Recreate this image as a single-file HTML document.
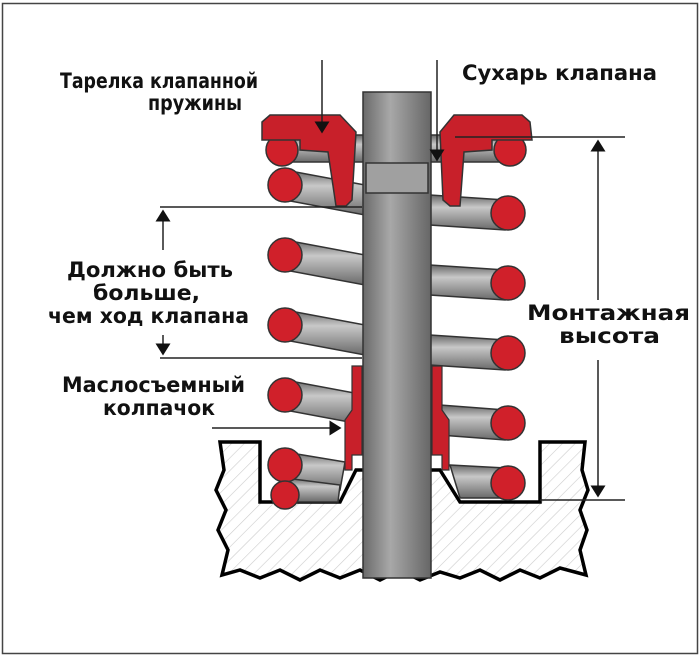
<!DOCTYPE html>
<html><head><meta charset="utf-8"><style>
html,body{margin:0;padding:0;background:#fff}
svg{display:block}
text{font-family:"DejaVu Sans","Liberation Sans",sans-serif;font-weight:bold;font-size:21px;fill:#111}
</style></head><body>
<svg width="700" height="656" viewBox="0 0 700 656" xmlns="http://www.w3.org/2000/svg">
<defs>
<pattern id="h" width="9" height="9" patternUnits="userSpaceOnUse" patternTransform="rotate(45)">
<line x1="0" y1="0" x2="0" y2="9" stroke="#ccc" stroke-width="1.2"/></pattern>
<linearGradient id="rod" x1="0" y1="0" x2="0" y2="1">
<stop offset="0" stop-color="#666"/><stop offset="0.35" stop-color="#c8c8c8"/><stop offset="1" stop-color="#6a6a6a"/></linearGradient>
<linearGradient id="stem" x1="0" y1="0" x2="1" y2="0">
<stop offset="0" stop-color="#6a6a6a"/><stop offset="0.4" stop-color="#a8a8a8"/><stop offset="1" stop-color="#666"/></linearGradient>
<marker id="a" markerWidth="8" markerHeight="10" refX="7" refY="5" orient="auto"><path d="M0,0 L8,5 L0,10 z" fill="#111"/></marker>
</defs>
<rect x="2.5" y="3.5" width="695" height="650" fill="#fff" stroke="#444" stroke-width="1.5"/>
<path d="M220,442 L260,442 L260,502 L340,502 L356,470 L440,470 L460,502 L540,502 L540,442 L585,442 L582,470 L588,490 L580,510 L587,530 L580,550 L586,575 L560,568 L540,578 L520,570 L500,580 L480,570 L460,578 L440,572 L420,580 L400,570 L380,580 L360,570 L340,578 L320,570 L300,580 L280,570 L260,578 L240,570 L222,575 L228,550 L218,530 L226,510 L216,490 L224,470 Z" fill="url(#h)" stroke="#000" stroke-width="3.5"/>
<g stroke="#333" stroke-width="1.5" fill="url(#rod)">
<path d="M285,170 L365,185 L365,215 L285,200 Z"/>
<path d="M285,240 L365,255 L365,285 L285,270 Z"/>
<path d="M285,310 L365,325 L365,355 L285,340 Z"/>
<path d="M285,380 L365,395 L365,425 L285,410 Z"/>
<path d="M285,452 L345,462 L340,490 L285,480 Z"/>
<path d="M285,478 L340,485 L338,502 L285,502 Z"/>
<path d="M430,195 L505,200 L505,230 L430,225 Z"/>
<path d="M430,265 L505,270 L505,300 L430,295 Z"/>
<path d="M430,335 L505,340 L505,370 L430,365 Z"/>
<path d="M440,405 L505,410 L505,440 L440,435 Z"/>
<path d="M450,465 L505,468 L505,498 L460,498 Z"/>
<path d="M285,135 L505,135 L505,162 L285,162 Z" />
</g>
<rect x="363" y="92" width="68" height="486" fill="url(#stem)" stroke="#333" stroke-width="1.5"/>
<rect x="366" y="163" width="62" height="30" fill="#a0a0a0" stroke="#333" stroke-width="1.5"/>
<g fill="#d0202a" stroke="#333" stroke-width="1.5">
<circle cx="282" cy="150" r="16"/><circle cx="510" cy="150" r="16"/>
</g>
<path d="M262,122 L270,115 L340,115 L356,132 L352,200 L346,206 L336,206 L328,152 L300,150 L300,140 L262,140 Z" fill="#c8202a" stroke="#333" stroke-width="1.5"/>
<path d="M530,122 L522,115 L454,115 L440,132 L443,200 L450,206 L460,206 L464,152 L492,150 L492,140 L532,140 Z" fill="#c8202a" stroke="#333" stroke-width="1.5"/>
<path d="M352,366 L362,366 L362,455 L352,455 L352,470 L345,470 L345,420 L352,410 Z" fill="#c8202a" stroke="#333" stroke-width="1.2"/>
<path d="M432,366 L442,366 L442,410 L449,420 L449,470 L442,470 L442,455 L432,455 Z" fill="#c8202a" stroke="#333" stroke-width="1.2"/>
<g fill="#d0202a" stroke="#333" stroke-width="1.5">
<circle cx="285" cy="185" r="17"/>
<circle cx="285" cy="255" r="17"/>
<circle cx="285" cy="325" r="17"/>
<circle cx="285" cy="395" r="17"/>
<circle cx="285" cy="465" r="17"/>
<circle cx="285" cy="495" r="14"/>
<circle cx="508" cy="213" r="17"/>
<circle cx="508" cy="283" r="17"/>
<circle cx="508" cy="353" r="17"/>
<circle cx="508" cy="423" r="17"/>
<circle cx="508" cy="483" r="17"/>
</g>
<g stroke="#222" stroke-width="1.5" fill="none">
<line x1="160" y1="207" x2="362" y2="207"/>
<line x1="160" y1="358" x2="362" y2="358"/>
<line x1="163" y1="250" x2="163" y2="211" marker-end="url(#a)"/>
<line x1="163" y1="335" x2="163" y2="354" marker-end="url(#a)"/>
<line x1="455" y1="137" x2="625" y2="137"/>
<line x1="540" y1="500" x2="625" y2="500"/>
<line x1="598" y1="300" x2="598" y2="141" marker-end="url(#a)"/>
<line x1="598" y1="360" x2="598" y2="496" marker-end="url(#a)"/>
<line x1="322" y1="60" x2="322" y2="132" marker-end="url(#a)"/>
<line x1="437" y1="60" x2="437" y2="160" marker-end="url(#a)"/>
<line x1="212" y1="428" x2="340" y2="428" marker-end="url(#a)"/>
</g>
<g>
<text x="60" y="88" textLength="198" lengthAdjust="spacingAndGlyphs">Тарелка клапанной</text>
<text x="148" y="110" textLength="94" lengthAdjust="spacingAndGlyphs">пружины</text>
<text x="462" y="80" textLength="195" lengthAdjust="spacingAndGlyphs">Сухарь клапана</text>
<text x="67" y="277" textLength="166" lengthAdjust="spacingAndGlyphs">Должно быть</text>
<text x="93" y="300" textLength="107" lengthAdjust="spacingAndGlyphs">больше,</text>
<text x="48" y="323" textLength="201" lengthAdjust="spacingAndGlyphs">чем ход клапана</text>
<text x="527" y="320" textLength="163" lengthAdjust="spacingAndGlyphs">Монтажная</text>
<text x="559" y="343" textLength="101" lengthAdjust="spacingAndGlyphs">высота</text>
<text x="62" y="392" textLength="183" lengthAdjust="spacingAndGlyphs">Маслосъемный</text>
<text x="103" y="415" textLength="112" lengthAdjust="spacingAndGlyphs">колпачок</text>
</g>
</svg>
</body></html>
